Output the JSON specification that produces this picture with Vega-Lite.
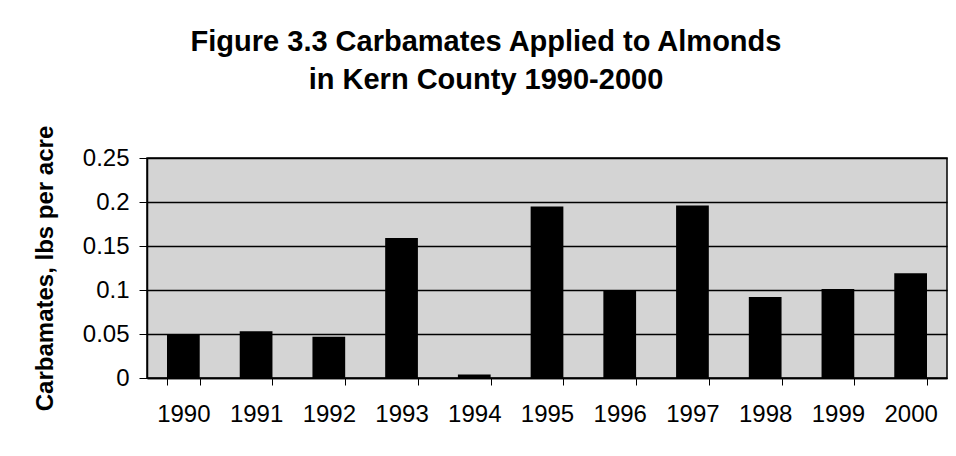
{
  "$schema": "https://vega.github.io/schema/vega-lite/v6.json",
  "autosize": {"type": "none"},
  "width": 800,
  "height": 220,
  "padding": {"left": 147, "top": 158, "right": 9, "bottom": 78},
  "background": "white",
  "title": {
    "text": ["Figure 3.3  Carbamates Applied to Almonds", "in Kern County 1990-2000"],
    "font": "Liberation Sans",
    "fontSize": 29,
    "fontWeight": "bold",
    "color": "black",
    "lineHeight": 38,
    "anchor": "middle",
    "dx": -61,
    "offset": 30
  },
  "data": {
    "values": [
      {"year": "1990", "value": 0.049},
      {"year": "1991", "value": 0.053},
      {"year": "1992", "value": 0.047},
      {"year": "1993", "value": 0.159},
      {"year": "1994", "value": 0.004},
      {"year": "1995", "value": 0.195},
      {"year": "1996", "value": 0.099},
      {"year": "1997", "value": 0.196},
      {"year": "1998", "value": 0.092},
      {"year": "1999", "value": 0.101},
      {"year": "2000", "value": 0.119}
    ]
  },
  "mark": {"type": "bar", "color": "black"},
  "encoding": {
    "x": {
      "field": "year",
      "type": "nominal",
      "sort": null,
      "scale": {"paddingInner": 0.55, "paddingOuter": 0.275},
      "axis": {
        "title": null,
        "labelAngle": 0,
        "labelFont": "Liberation Sans",
        "labelFontSize": 24,
        "labelColor": "black",
        "labelPadding": 17,
        "tickBand": "extent",
        "tickSize": 7,
        "tickColor": "black",
        "domainColor": "black",
        "domainWidth": 1.5,
        "grid": false
      }
    },
    "y": {
      "field": "value",
      "type": "quantitative",
      "scale": {"domain": [0, 0.25], "nice": false},
      "axis": {
        "title": "Carbamates, lbs per acre",
        "titleFont": "Liberation Sans",
        "titleFontSize": 24,
        "titleFontWeight": "bold",
        "titleColor": "black",
        "titlePadding": 25,
        "values": [0, 0.05, 0.1, 0.15, 0.2, 0.25],
        "format": "~g",
        "labelFont": "Liberation Sans",
        "labelFontSize": 24,
        "labelColor": "black",
        "labelPadding": 10,
        "tickSize": 8,
        "tickColor": "black",
        "domainColor": "black",
        "domainWidth": 1.5,
        "grid": true,
        "gridColor": "black",
        "gridWidth": 1.5
      }
    }
  },
  "config": {
    "view": {"stroke": "black", "strokeWidth": 1.5, "fill": "#d4d4d4"}
  }
}
